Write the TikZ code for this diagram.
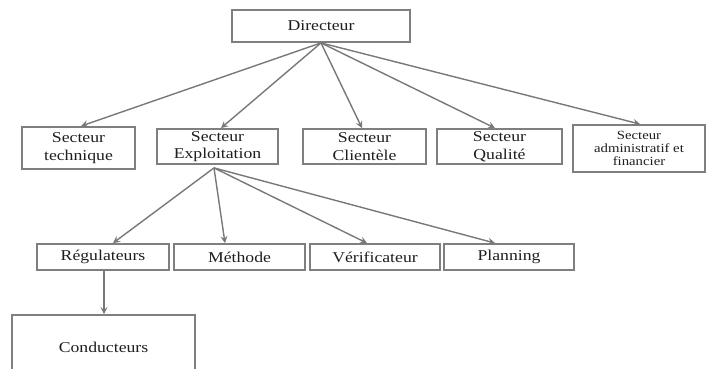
\documentclass[tikz,border=0pt]{standalone}
\usepackage{fontspec}
\setmainfont{Liberation Serif}[FakeStretch=1.18]
\usetikzlibrary{arrows.meta}
\definecolor{boxgray}{HTML}{7F7F7F}
\definecolor{linegray}{HTML}{787878}
\definecolor{txt}{HTML}{1E1E1E}
\begin{document}
\begin{tikzpicture}[x=1pt,y=-1pt,
  box/.style={draw=boxgray,line width=1.8pt,inner sep=0pt,align=center,text=txt,
    font=\fontsize{15}{17.5}\selectfont},
  smallbox/.style={box,font=\fontsize{12.5}{13}\selectfont},
  arr/.style={draw=linegray,line width=1.4pt,-{Stealth[length=7pt,width=7pt,inset=2.5pt]}}]
\useasboundingbox (0,0) rectangle (706,369);
\begin{scope}
\clip (0,0) rectangle (706,369);
\node[box,minimum width=178pt,minimum height=32pt] (dir) at (321,26) {Directeur};
\node[box,minimum width=113pt,minimum height=42pt] (tech) at (78.5,148) {Secteur\\technique};
\node[box,minimum width=121pt,minimum height=35pt] (expl) at (217.5,146.5) {Secteur\\Exploitation};
\node[box,minimum width=123pt,minimum height=35pt] (cli) at (364.5,146.5) {Secteur\\Clientèle};
\node[box,minimum width=125pt,minimum height=35pt] (qual) at (499.5,146.5) {Secteur\\Qualité};
\node[smallbox,minimum width=132pt,minimum height=47pt] (adm) at (639,148.5) {Secteur\\administratif et\\financier};
\node[box,minimum width=132pt,minimum height=26pt] (reg) at (103,257) {Régulateurs};
\node[box,minimum width=131pt,minimum height=26pt] (met) at (239.5,257) {Méthode};
\node[box,minimum width=130pt,minimum height=26pt] (ver) at (375,257) {Vérificateur};
\node[box,minimum width=130pt,minimum height=26pt] (plan) at (509,257) {Planning};
\node[box,minimum width=183pt,minimum height=65pt] (cond) at (103.5,347.5) {Conducteurs};

\draw[arr] (dir.south) -- ([xshift=2.5pt]tech.north);
\draw[arr] (dir.south) -- ([xshift=3.5pt]expl.north);
\draw[arr] (dir.south) -- ([xshift=-2.5pt]cli.north);
\draw[arr] (dir.south) -- ([xshift=-4.5pt]qual.north);
\draw[arr] (dir.south) -- ([xshift=1pt]adm.north);

\coordinate (es) at ([xshift=-3.5pt,yshift=-3pt]expl.south);
\draw[arr] (es) -- ([xshift=10pt]reg.north);
\draw[arr] (es) -- ([xshift=-14.5pt]met.north);
\draw[arr] (es) -- ([xshift=-8pt]ver.north);
\draw[arr] (es) -- ([xshift=-14pt]plan.north);
\draw[arr] ([xshift=1pt]reg.south) -- ([xshift=0.5pt]cond.north);
\end{scope}
\end{tikzpicture}
\end{document}
